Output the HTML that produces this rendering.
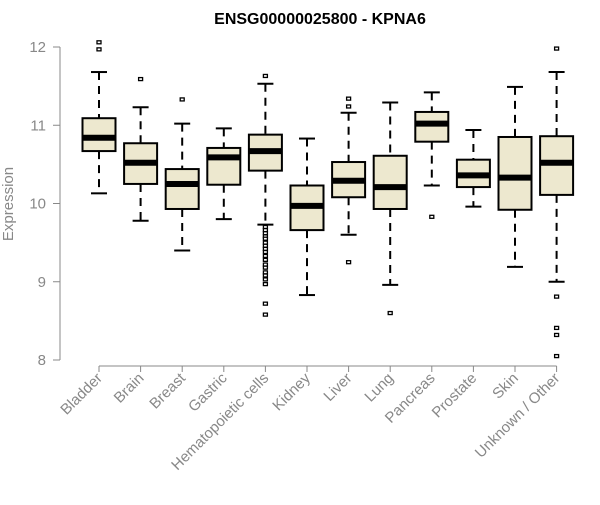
<!DOCTYPE html>
<html><head><meta charset="utf-8"><style>
body{margin:0;background:#fff}
svg text{font-family:"Liberation Sans",Arial,sans-serif}
</style></head><body>
<svg id="chart" width="600" height="500" xmlns="http://www.w3.org/2000/svg">
<text x="320" y="24" text-anchor="middle" font-weight="bold" font-size="16">ENSG00000025800 - KPNA6</text>
<text transform="translate(13,204) rotate(-90)" text-anchor="middle" font-size="15" fill="#888">Expression</text>
<g id="axes"></g><g id="boxes"></g>
</svg>
<script>
const categories=["Bladder","Brain","Breast","Gastric","Hematopoietic cells","Kidney","Liver","Lung","Pancreas","Prostate","Skin","Unknown / Other"];
const whiskerHigh=[11.68,11.23,11.02,10.96,11.53,10.83,11.16,11.29,11.42,10.94,11.49,11.68];
const q3=[11.09,10.77,10.44,10.71,10.88,10.23,10.53,10.61,11.17,10.56,10.85,10.86];
const medians=[10.84,10.52,10.25,10.59,10.67,9.97,10.29,10.21,11.02,10.36,10.33,10.52];
const q1=[10.67,10.25,9.93,10.24,10.42,9.66,10.08,9.93,10.79,10.21,9.92,10.11];
const whiskerLow=[10.13,9.78,9.40,9.80,9.73,8.83,9.60,8.96,10.23,9.96,9.19,9.00];
const outliers=[[12.06,11.97],[11.59],[11.33],[],[11.63,9.70,9.66,9.62,9.58,9.55,9.50,9.46,9.42,9.38,9.33,9.28,9.22,9.18,9.12,9.08,9.03,8.97,8.72,8.58],[],[11.34,11.24,9.25],[8.60],[9.83],[],[],[11.98,8.81,8.41,8.32,8.05]];
const yTicks=[8,9,10,11,12];
const NS="http://www.w3.org/2000/svg";
const y=v=>47+(12-v)*78.25;
const x=i=>99+i*41.6;
function mk(parent,tag,attrs){const e=document.createElementNS(NS,tag);for(const k in attrs)e.setAttribute(k,attrs[k]);parent.appendChild(e);return e;}
const ax=document.getElementById('axes'),bx=document.getElementById('boxes');
let l=mk(ax,'line',{x1:60,x2:60,y1:y(12),y2:y(8),stroke:'#888'});


yTicks.forEach(t=>{
 const tk=mk(ax,'line',{x1:53,x2:60,y1:y(t),y2:y(t),stroke:'#888'});
 
 
 const tx=mk(ax,'text',{x:46,y:y(t)+5,'text-anchor':'end','font-size':15,fill:'#888'});
 tx.textContent=t;
 
 
});
l=mk(ax,'line',{x1:x(0),x2:x(categories.length-1),y1:366,y2:366,stroke:'#888'});


categories.forEach((c,i)=>{
 const xi=x(i);
 const tk=mk(ax,'line',{x1:xi,x2:xi,y1:366,y2:372,stroke:'#888'});
 
 
 const tx=mk(ax,'text',{transform:`translate(${xi+4},${379}) rotate(-45)`,'text-anchor':'end','font-size':15,fill:'#888'});
 tx.textContent=c;
 
 
 const g=mk(bx,'g',{});
 
 
 const hw=16.5;
 mk(g,'line',{x1:xi,x2:xi,y1:y(whiskerHigh[i]),y2:y(q3[i]),stroke:'#000','stroke-width':2,'stroke-dasharray':'8,6'});
 mk(g,'line',{x1:xi,x2:xi,y1:y(q1[i]),y2:y(whiskerLow[i]),stroke:'#000','stroke-width':2,'stroke-dasharray':'8,6'});
 mk(g,'line',{x1:xi-8,x2:xi+8,y1:y(whiskerHigh[i]),y2:y(whiskerHigh[i]),stroke:'#000','stroke-width':2});
 mk(g,'line',{x1:xi-8,x2:xi+8,y1:y(whiskerLow[i]),y2:y(whiskerLow[i]),stroke:'#000','stroke-width':2});
 mk(g,'rect',{x:xi-hw,y:y(q3[i]),width:hw*2,height:y(q1[i])-y(q3[i]),fill:'#ede8cf',stroke:'#000','stroke-width':2});
 mk(g,'line',{x1:xi-hw,x2:xi+hw,y1:y(medians[i]),y2:y(medians[i]),stroke:'#000','stroke-width':6});
 outliers[i].forEach(o=>{
  const r=mk(g,'rect',{x:xi-2,y:y(o)-1.5,width:4,height:3,fill:'#fff',stroke:'#000','stroke-width':1.3});
  
  
 });
});
</script>
</body></html>
